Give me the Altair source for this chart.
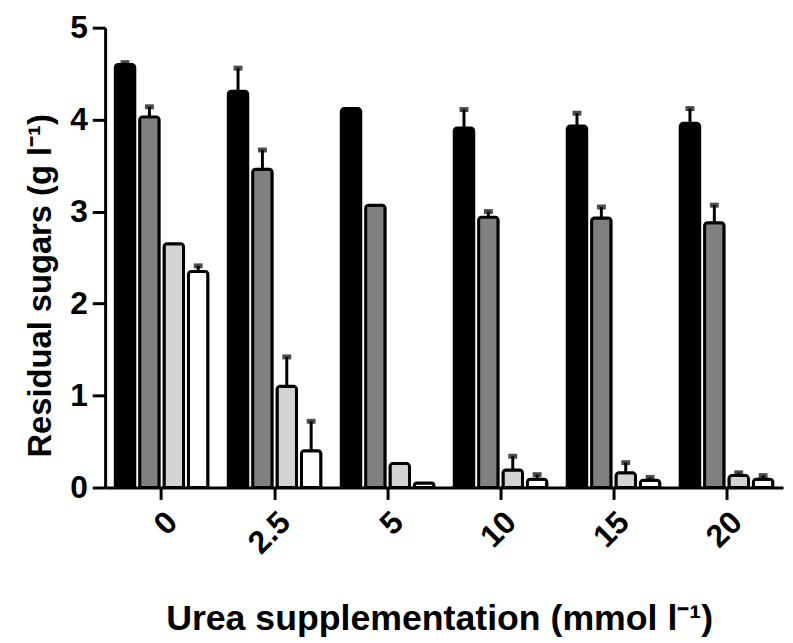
import altair as alt
import pandas as pd

concentrations = ["0", "2.5", "5", "10", "15", "20"]
series = ["Series 1", "Series 2", "Series 3", "Series 4"]
series_colors = ["#000000", "#808080", "#d3d3d3", "#ffffff"]

s1_values = [4.60, 4.31, 4.12, 3.91, 3.93, 3.96]
s2_values = [4.03, 3.46, 3.07, 2.94, 2.93, 2.88]
s3_values = [2.65, 1.10, 0.26, 0.19, 0.16, 0.13]
s4_values = [2.35, 0.40, 0.05, 0.09, 0.08, 0.09]

s1_err = [0.02, 0.25, 0.0, 0.20, 0.14, 0.16]
s2_err = [0.11, 0.21, 0.0, 0.06, 0.12, 0.19]
s3_err = [0.0, 0.32, 0.0, 0.15, 0.11, 0.03]
s4_err = [0.06, 0.32, 0.0, 0.05, 0.03, 0.04]

all_vals = [s1_values, s2_values, s3_values, s4_values]
all_errs = [s1_err, s2_err, s3_err, s4_err]

rows = []
for i, c in enumerate(concentrations):
    for j, s in enumerate(series):
        v = all_vals[j][i]
        e = all_errs[j][i]
        rows.append({"conc": c, "series": s, "value": v, "err": e, "upper": v + e})
df = pd.DataFrame(rows)
err_df = df[df["err"] > 0]

FONT = "Liberation Sans"

x_axis = alt.Axis(
    title="Urea supplementation (mmol l⁻¹)",
    labelAngle=-45,
    labelFontSize=32,
    labelFont=FONT,
    labelFontWeight="bold",
    labelColor="black",
    labelPadding=7,
    tickSize=12,
    tickWidth=3,
    tickColor="black",
    domainWidth=3,
    domainColor="black",
    titleFont=FONT,
    titleFontSize=36,
    titleFontWeight="bold",
    titleColor="black",
    titleX=337,
    titleY=143,
    titleAlign="center",
    titleBaseline="alphabetic",
)
x_enc = alt.X(
    "conc:N",
    sort=concentrations,
    scale=alt.Scale(paddingInner=0.18, paddingOuter=0.09),
    axis=x_axis,
)
xoff_enc = alt.XOffset(
    "series:N", sort=series, scale=alt.Scale(paddingInner=0.2, paddingOuter=0)
)
y_axis = alt.Axis(
    title="Residual sugars (g l⁻¹)",
    values=[0, 1, 2, 3, 4, 5],
    format="d",
    grid=False,
    labelFontSize=32,
    labelFont=FONT,
    labelFontWeight="bold",
    labelColor="black",
    labelPadding=5,
    tickSize=13,
    tickWidth=3,
    tickColor="black",
    domainWidth=3,
    domainColor="black",
    titleFont=FONT,
    titleFontSize=33,
    titleFontWeight="bold",
    titleColor="black",
    titleX=-55,
    titleY=260,
    titleAlign="center",
    titleBaseline="alphabetic",
)
y_scale = alt.Scale(domain=[0, 5], nice=False)

bars = alt.Chart(df).mark_bar(
    stroke="black", strokeWidth=3, cornerRadiusTopLeft=3, cornerRadiusTopRight=3
).encode(
    x=x_enc,
    xOffset=xoff_enc,
    y=alt.Y("value:Q", scale=y_scale, axis=y_axis),
    color=alt.Color(
        "series:N",
        scale=alt.Scale(domain=series, range=series_colors),
        legend=None,
    ),
)

rules = alt.Chart(err_df).mark_rule(strokeWidth=3, color="black").encode(
    x=x_enc,
    xOffset=xoff_enc,
    y=alt.Y("value:Q", scale=y_scale, axis=y_axis),
    y2="upper:Q",
)

caps = alt.Chart(err_df).mark_tick(color="black", thickness=5, size=9).encode(
    x=x_enc,
    xOffset=xoff_enc,
    y=alt.Y("upper:Q", scale=y_scale, axis=y_axis),
)

chart = (
    alt.layer(bars, rules, caps)
    .properties(
        width=684,
        height=464,
        autosize="none",
        padding={"left": 98, "top": 17, "right": 2, "bottom": 150},
    )
    .configure_view(stroke=None)
)

chart.save("out.html", embed_options={"renderer": "svg", "actions": False})
